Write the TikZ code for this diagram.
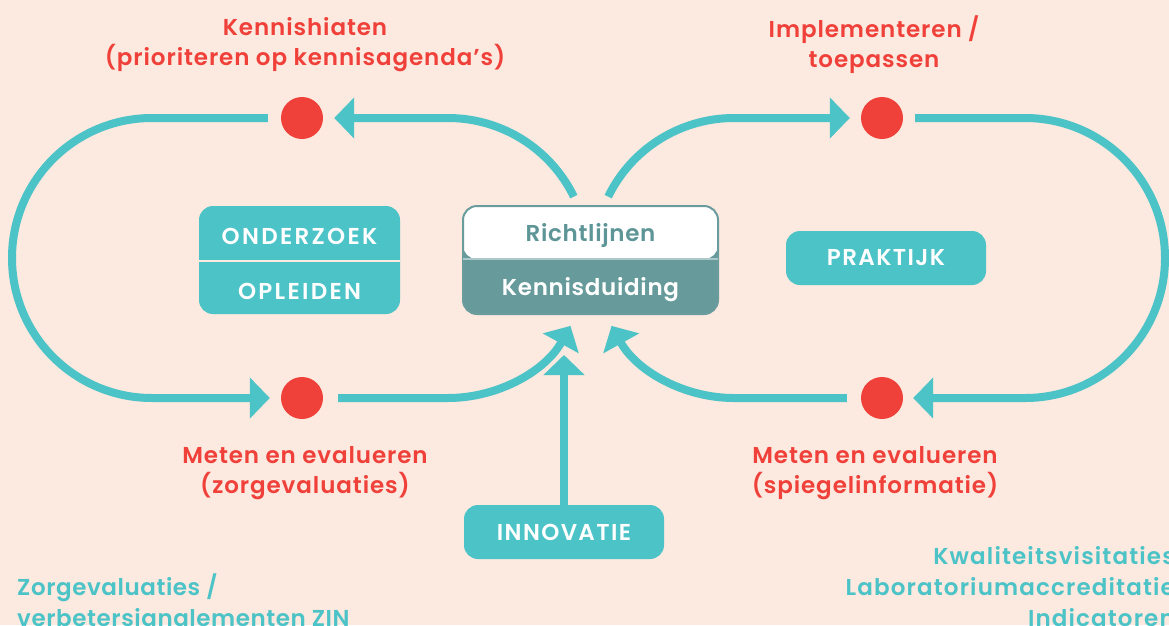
\documentclass[tikz,border=0pt]{standalone}
\usepackage{fontspec}
\IfFontExistsTF{Poppins SemiBold}{\setmainfont{Poppins}[LetterSpace=2,BoldFont={Poppins SemiBold}]}{\setmainfont{Poppins}[LetterSpace=1.5]}
\usetikzlibrary{arrows.meta,calc}
\definecolor{bg}{HTML}{FCE9DF}
\definecolor{tl}{HTML}{4BC3C7}
\definecolor{rd}{HTML}{F0403A}
\definecolor{kd}{HTML}{669A9B}
\definecolor{kbd}{HTML}{6A9C9E}
\definecolor{kt}{HTML}{5E9597}
\tikzset{
  flow/.style={draw=tl, line width=8pt},
  arr/.style={-{Triangle[length=20pt,width=40pt]}},
  dot/.style={circle, fill=rd, minimum size=42pt, inner sep=0pt},
  lbl/.style={text=rd, align=center, font=\fontsize{23}{30}\selectfont\bfseries\addfontfeature{LetterSpace=4}},
  tbox/.style={fill=tl, rounded corners=14pt, text=white, inner sep=0pt, font=\fontsize{23}{30}\selectfont\bfseries\addfontfeature{LetterSpace=6}},
  btxt/.style={inner sep=0pt, font=\fontsize{23}{30}\selectfont\bfseries\addfontfeature{LetterSpace=3}},
  capt/.style={inner sep=0pt, text=white, font=\fontsize{23}{30}\selectfont\bfseries\addfontfeature{LetterSpace=10}},
  note/.style={text=tl, font=\fontsize{23}{31}\selectfont\bfseries\addfontfeature{LetterSpace=2.5}, inner sep=0pt},
  noteR/.style={text=tl, font=\fontsize{23}{31}\selectfont\bfseries\addfontfeature{LetterSpace=5}, inner sep=0pt},
  kbox/.style={minimum width=255pt, minimum height=108pt, rounded corners=14pt, fill=kd, draw=kbd, line width=2pt,
    path picture={\fill[white] (path picture bounding box.north west) rectangle ([yshift=1pt]path picture bounding box.east);}}
}
\begin{document}
\begin{tikzpicture}[x=1pt,y=-1pt]
\fill[bg] (0,0) rectangle (1169,625);
\useasboundingbox (0,0) rectangle (1169,625);

% centres of the loop arcs
\coordinate (oL) at (152,258);
\coordinate (cL) at (448,258);
\coordinate (cR) at (734,258);
\coordinate (oR) at (1025,258);

% dots
\node[dot] (dTL) at (302,118) {};
\node[dot] (dTR) at (882,118) {};
\node[dot] (dBL) at (302,398) {};
\node[dot] (dBR) at (882,398) {};

% central box
\node[kbox] (kb) at (590.5,260) {};
\draw[kbd!55!white, line width=1.5pt] ([yshift=1pt,xshift=1pt]kb.west) -- ([yshift=1pt,xshift=-1pt]kb.east);
\node[btxt, text=kt] (rich) at (590.5,236) {Richtlijnen};
\node[btxt, text=white] (kenn) at (590.5,290) {Kennisduiding};

% onderzoek / opleiden
\node[tbox, minimum width=201pt, minimum height=108pt] (ob) at (299.5,260) {};
\draw[bg, line width=2pt] ([yshift=-1pt]ob.west) -- ([yshift=-1pt]ob.east);
\node[capt] (ond) at (299.5,236) {ONDERZOEK};
\node[capt] (opl) at (299.5,291) {OPLEIDEN};

% praktijk / innovatie
\node[tbox, minimum width=200pt, minimum height=54pt] (prak) at (886,258) {PRAKTIJK};
\node[tbox, minimum width=200pt, minimum height=54pt] (inn) at (564,532) {INNOVATIE};

% connectors
\draw[flow,arr] ($(dTL.west)+(-13,0)$) -- ($(oL)+(0,-140)$) arc[start angle=270,end angle=90,radius=140] -- ($(dBL.west)+(-11,0)$);
\draw[flow,arr] ($(cL)+(-26:140)$) arc[start angle=-26,end angle=-90,radius=140] -- ($(dTL.east)+(11,0)$);
\draw[flow,arr] ($(dBL.east)+(15,0)$) -- ($(cL)+(0,140)$) arc[start angle=90,end angle=29,radius=140];
\draw[flow,arr] ($(cR)+(206:140)$) arc[start angle=206,end angle=270,radius=140] -- ($(dTR.west)+(-11,0)$);
\draw[flow,arr] ($(dTR.east)+(12,0)$) -- ($(oR)+(0,-140)$) arc[start angle=-90,end angle=90,radius=140] -- ($(dBR.east)+(10,0)$);
\draw[flow,arr] ($(dBR.west)+(-14,0)$) -- ($(cR)+(0,140)$) arc[start angle=90,end angle=151,radius=140];
\coordinate (tipC) at (564,355);
\draw[flow,arr] (inn.north) -- (tipC);

% labels
\node[lbl] (lTL) at (305,45) {Kennishiaten\\(prioriteren op kennisagenda’s)};
\node[lbl] (lTR) at (874,45) {Implementeren /\\toepassen};
\node[lbl] (lBL) at (305,473) {Meten en evalueren\\(zorgevaluaties)};
\node[lbl] (lBR) at (875,473) {Meten en evalueren\\(spiegelinformatie)};
\node[note, align=left, anchor=west] (nL) at (17,603) {Zorgevaluaties /\\verbetersignalementen ZIN};
\node[noteR, align=right, anchor=east] (nR) at (1175,587) {Kwaliteitsvisitaties\\Laboratoriumaccreditatie\\Indicatoren};
\end{tikzpicture}
\end{document}
